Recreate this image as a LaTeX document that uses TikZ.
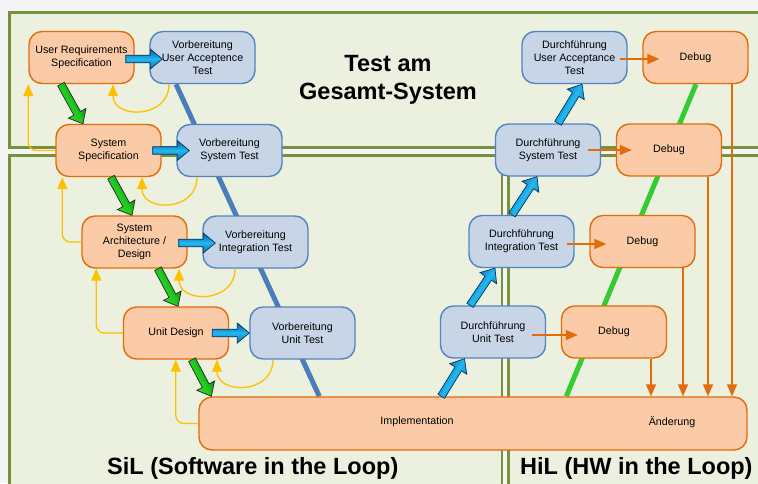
\documentclass[tikz,border=0pt]{standalone}
\usepackage{fontspec}
\setmainfont{Liberation Sans}
\usetikzlibrary{calc,arrows.meta,backgrounds}

\definecolor{bgc}{HTML}{F5F5F5}
\definecolor{panelfill}{HTML}{EBF0DF}
\definecolor{panelline}{HTML}{76923C}
\definecolor{ofill}{HTML}{FACBA6}
\definecolor{oline}{HTML}{E36C0A}
\definecolor{bfill}{HTML}{C7D5E6}
\definecolor{bline}{HTML}{5384C0}
\definecolor{amber}{HTML}{FFC000}
\definecolor{vblue}{HTML}{4A7EBB}
\definecolor{vgreen}{HTML}{33CC33}
\definecolor{gdark}{HTML}{006E00}
\definecolor{gmid}{HTML}{1FC81F}
\definecolor{glight}{HTML}{3CE03C}
\definecolor{bdark}{HTML}{0A5CA0}
\definecolor{blight}{HTML}{22B8F0}

\tikzset{
  nodebox/.style={rounded corners=13pt, minimum width=105pt, minimum height=52pt,
    line width=1.4pt, align=center, inner sep=2pt,
    font=\fontsize{10.7}{12.7}\selectfont},
  obox/.style={nodebox, draw=oline, fill=ofill},
  bbox/.style={nodebox, draw=bline, fill=bfill},
  plaintext/.style={inner sep=0pt, font=\fontsize{10.7}{12.7}\selectfont},
  panel/.style={draw=panelline, fill=panelfill, line width=2.5pt},
  fb/.style={draw=amber, line width=1.3pt, -{Triangle[length=12pt,width=10pt]}},
  ob/.style={draw=oline, line width=1.5pt, -{Triangle[length=12pt,width=10pt]}},
  vline/.style={line width=5pt},
  greenfat/.style={draw=black!85, line width=0.7pt, top color=gdark, bottom color=glight, middle color=gmid},
  bluefat/.style={draw=bdark!60!black, line width=0.7pt, top color=bdark, bottom color=bdark!80!blight, middle color=blight},
  bigtitle/.style={inner sep=0pt, align=center, font=\fontsize{23.5}{28}\selectfont\bfseries},
  looptitle/.style={inner sep=0pt, font=\fontsize{23.5}{28}\selectfont\bfseries},
}

\newcommand\fatarrow[3]{%
  \coordinate (fh) at ($(#3)!12pt!(#2)$);
  \pgfmathanglebetweenpoints{\pgfpointanchor{#2}{center}}{\pgfpointanchor{#3}{center}}%
  \let\fatang\pgfmathresult
  \path[#1, shading angle=\fatang]
    ($(#2)!3.8pt!90:(#3)$) -- ($(fh)!3.8pt!90:(#3)$) -- ($(fh)!10pt!90:(#3)$) -- (#3)
    -- ($(fh)!10pt!-90:(#3)$) -- ($(fh)!3.8pt!-90:(#3)$) -- ($(#2)!3.8pt!-90:(#3)$) -- cycle;
}

\begin{document}
\begin{tikzpicture}[x=1pt, y=-1pt]
\useasboundingbox (0,0) rectangle (758,483);

\begin{scope}[on background layer]
  \fill[bgc] (0,0) rectangle (758,483);
  \path[panel] (9.7,12.7) rectangle (775,147.5);
  \path[panel] (9.7,155.5) rectangle (502,500);
  \path[panel] (508.5,155.5) rectangle (775,500);
\end{scope}

% left column (preparation)
\node[obox] (urs)   at (81.5,57.5)  {User Requirements\\Specification};
\node[bbox] (vuat)  at (202.5,57.5) {Vorbereitung\\User Acceptence\\Test};
\node[obox] (sys)   at (108.5,150.5){System\\Specification};
\node[bbox] (vst)   at (229.5,150.5){Vorbereitung\\System Test};
\node[obox] (arch)  at (134.5,242)  {System\\Architecture /\\Design};
\node[bbox] (vint)  at (255.5,242)  {Vorbereitung\\Integration Test};
\node[obox] (unit)  at (176,333)    {Unit Design};
\node[bbox] (vunit) at (302.5,333)  {Vorbereitung\\Unit Test};

% implementation
\node[obox, minimum width=548pt, minimum height=53pt] (impl) at (473,423.5) {};
\node[plaintext] (impltxt) at (417,422) {Implementation};
\node[plaintext] (aendtxt) at (672,422) {Änderung};

% right column (execution)
\node[bbox] (duat)  at (574.5,57.5) {Durchführung\\User Acceptance\\Test};
\node[obox] (dbg1)  at (695.5,57.5) {Debug};
\node[bbox] (dst)   at (548,150)    {Durchführung\\System Test};
\node[obox] (dbg2)  at (669,150)    {Debug};
\node[bbox] (dint)  at (521.5,241.5){Durchführung\\Integration Test};
\node[obox] (dbg3)  at (642.5,241.5){Debug};
\node[bbox] (dunit) at (493,332)    {Durchführung\\Unit Test};
\node[obox] (dbg4)  at (614,332)    {Debug};

% titles
\node[bigtitle] (ttl) at (388,80) {Test am\\Gesamt-System};
\node[looptitle, anchor=base west] (sil) at (107,474) {SiL (Software in the Loop)};
\node[looptitle, anchor=base west] (hil) at (520,474) {HiL (HW in the Loop)};

% V lines behind boxes
\coordinate (vl1) at ($(vuat.south)+(-26.5,0)$);
\coordinate (vl2) at ($(impl.north west)+(121,0)$);
\coordinate (gl1) at ($(dbg1.south)+(0.5,0)$);
\coordinate (gl2) at ($(impl.north west)+(368,0)$);
\begin{scope}[on background layer]
  \draw[vline, vblue] (vl1) -- (vl2);
  \draw[vline, vgreen] (gl1) -- (gl2);
\end{scope}

% feedback arrows (amber)
\coordinate (f3e) at ($(sys.south west)+(7,0)$);
\coordinate (f5e) at ($(arch.south west)+(15,0)$);
\coordinate (f7e) at ($(unit.south west)+(53,0)$);
\draw[fb, rounded corners=8pt] (sys.west) -| (urs.south west);
\draw[fb, rounded corners=8pt] (arch.west) -| (f3e);
\draw[fb, rounded corners=8pt] (unit.west) -| (f5e);
\draw[fb, rounded corners=8pt] (impl.west) -| (f7e);

\coordinate (u1a) at ($(vuat.south)+(-33.5,0)$);
\coordinate (u1b) at ($(urs.south)+(31.5,0)$);
\coordinate (u2a) at ($(vst.south)+(-32.5,0)$);
\coordinate (u2b) at ($(sys.south)+(33.5,0)$);
\coordinate (u3a) at ($(vint.south)+(-20.5,0)$);
\coordinate (u3b) at ($(arch.south)+(44.5,0)$);
\coordinate (u4a) at ($(vunit.south)+(-29.5,0)$);
\coordinate (u4b) at ($(unit.south)+(41,0)$);
\draw[fb] (u1a) .. controls +(0,35) and +(0,35) .. (u1b);
\draw[fb] (u2a) .. controls +(0,35) and +(0,35) .. (u2b);
\draw[fb] (u3a) .. controls +(0,35) and +(0,35) .. (u3b);
\draw[fb] (u4a) .. controls +(0,35) and +(0,35) .. (u4b);

% orange arrows to debug
\draw[ob] ($(duat.east)+(-8,1.5)$) -- ($(dbg1.west)+(17,1.5)$);
\draw[ob] ($(dst.east)+(-13,0)$) -- ($(dbg2.west)+(16,0)$);
\draw[ob] ($(dint.east)+(-8,2.5)$) -- ($(dbg3.west)+(17,2.5)$);
\draw[ob] ($(dunit.east)+(-14,3)$) -- ($(dbg4.west)+(17,3)$);

% orange arrows debug -> Aenderung
\coordinate (d1s) at ($(dbg1.south)+(36.5,0)$);
\coordinate (d2s) at ($(dbg2.south)+(39,0)$);
\coordinate (d3s) at ($(dbg3.south)+(40.5,0)$);
\coordinate (d4s) at ($(dbg4.south)+(37,0)$);
\draw[ob] (d1s) -- (d1s |- impl.north);
\draw[ob] (d2s) -- (d2s |- impl.north);
\draw[ob] (d3s) -- (d3s |- impl.north);
\draw[ob] (d4s) -- (d4s |- impl.north);

% green fat arrows (down the left branch)
\coordinate (g1a) at ($(urs.south)+(-20.5,0)$);
\coordinate (g1b) at ($(sys.north)+(-25.5,0)$);
\coordinate (g2a) at ($(sys.south)+(2.5,0)$);
\coordinate (g2b) at ($(arch.north)+(-2.5,0)$);
\coordinate (g3a) at ($(arch.south)+(23.5,0)$);
\coordinate (g3b) at ($(unit.north)+(2,0)$);
\coordinate (g4a) at ($(unit.south)+(16,0)$);
\coordinate (g4b) at ($(impl.north west)+(13,0)$);
\fatarrow{greenfat}{g1a}{g1b}
\fatarrow{greenfat}{g2a}{g2b}
\fatarrow{greenfat}{g3a}{g3b}
\fatarrow{greenfat}{g4a}{g4b}

% blue fat arrows (preparation)
\coordinate (h1a) at ($(urs.east)+(-9,1.5)$);
\coordinate (h1b) at ($(vuat.west)+(13,1.5)$);
\coordinate (h2a) at ($(sys.east)+(-9,0)$);
\coordinate (h2b) at ($(vst.west)+(13,0)$);
\coordinate (h3a) at ($(arch.east)+(-9,1)$);
\coordinate (h3b) at ($(vint.west)+(13,1)$);
\coordinate (h4a) at ($(unit.east)+(-17,0)$);
\coordinate (h4b) at ($(vunit.west)+(0,0)$);
\fatarrow{bluefat}{h1a}{h1b}
\fatarrow{bluefat}{h2a}{h2b}
\fatarrow{bluefat}{h3a}{h3b}
\fatarrow{bluefat}{h4a}{h4b}

% blue fat arrows (up the right branch)
\coordinate (b1a) at ($(impl.north west)+(243,0)$);
\coordinate (b1b) at ($(dunit.south)+(-28.5,0)$);
\coordinate (b2a) at ($(dunit.north)+(-23,0)$);
\coordinate (b2b) at ($(dint.south)+(-26.5,0)$);
\coordinate (b3a) at ($(dint.north)+(-9.5,0)$);
\coordinate (b3b) at ($(dst.south)+(-11,0)$);
\coordinate (b4a) at ($(dst.north)+(10,0)$);
\coordinate (b4b) at ($(duat.south)+(7.5,0)$);
\fatarrow{bluefat}{b1a}{b1b}
\fatarrow{bluefat}{b2a}{b2b}
\fatarrow{bluefat}{b3a}{b3b}
\fatarrow{bluefat}{b4a}{b4b}
\end{tikzpicture}
\end{document}
